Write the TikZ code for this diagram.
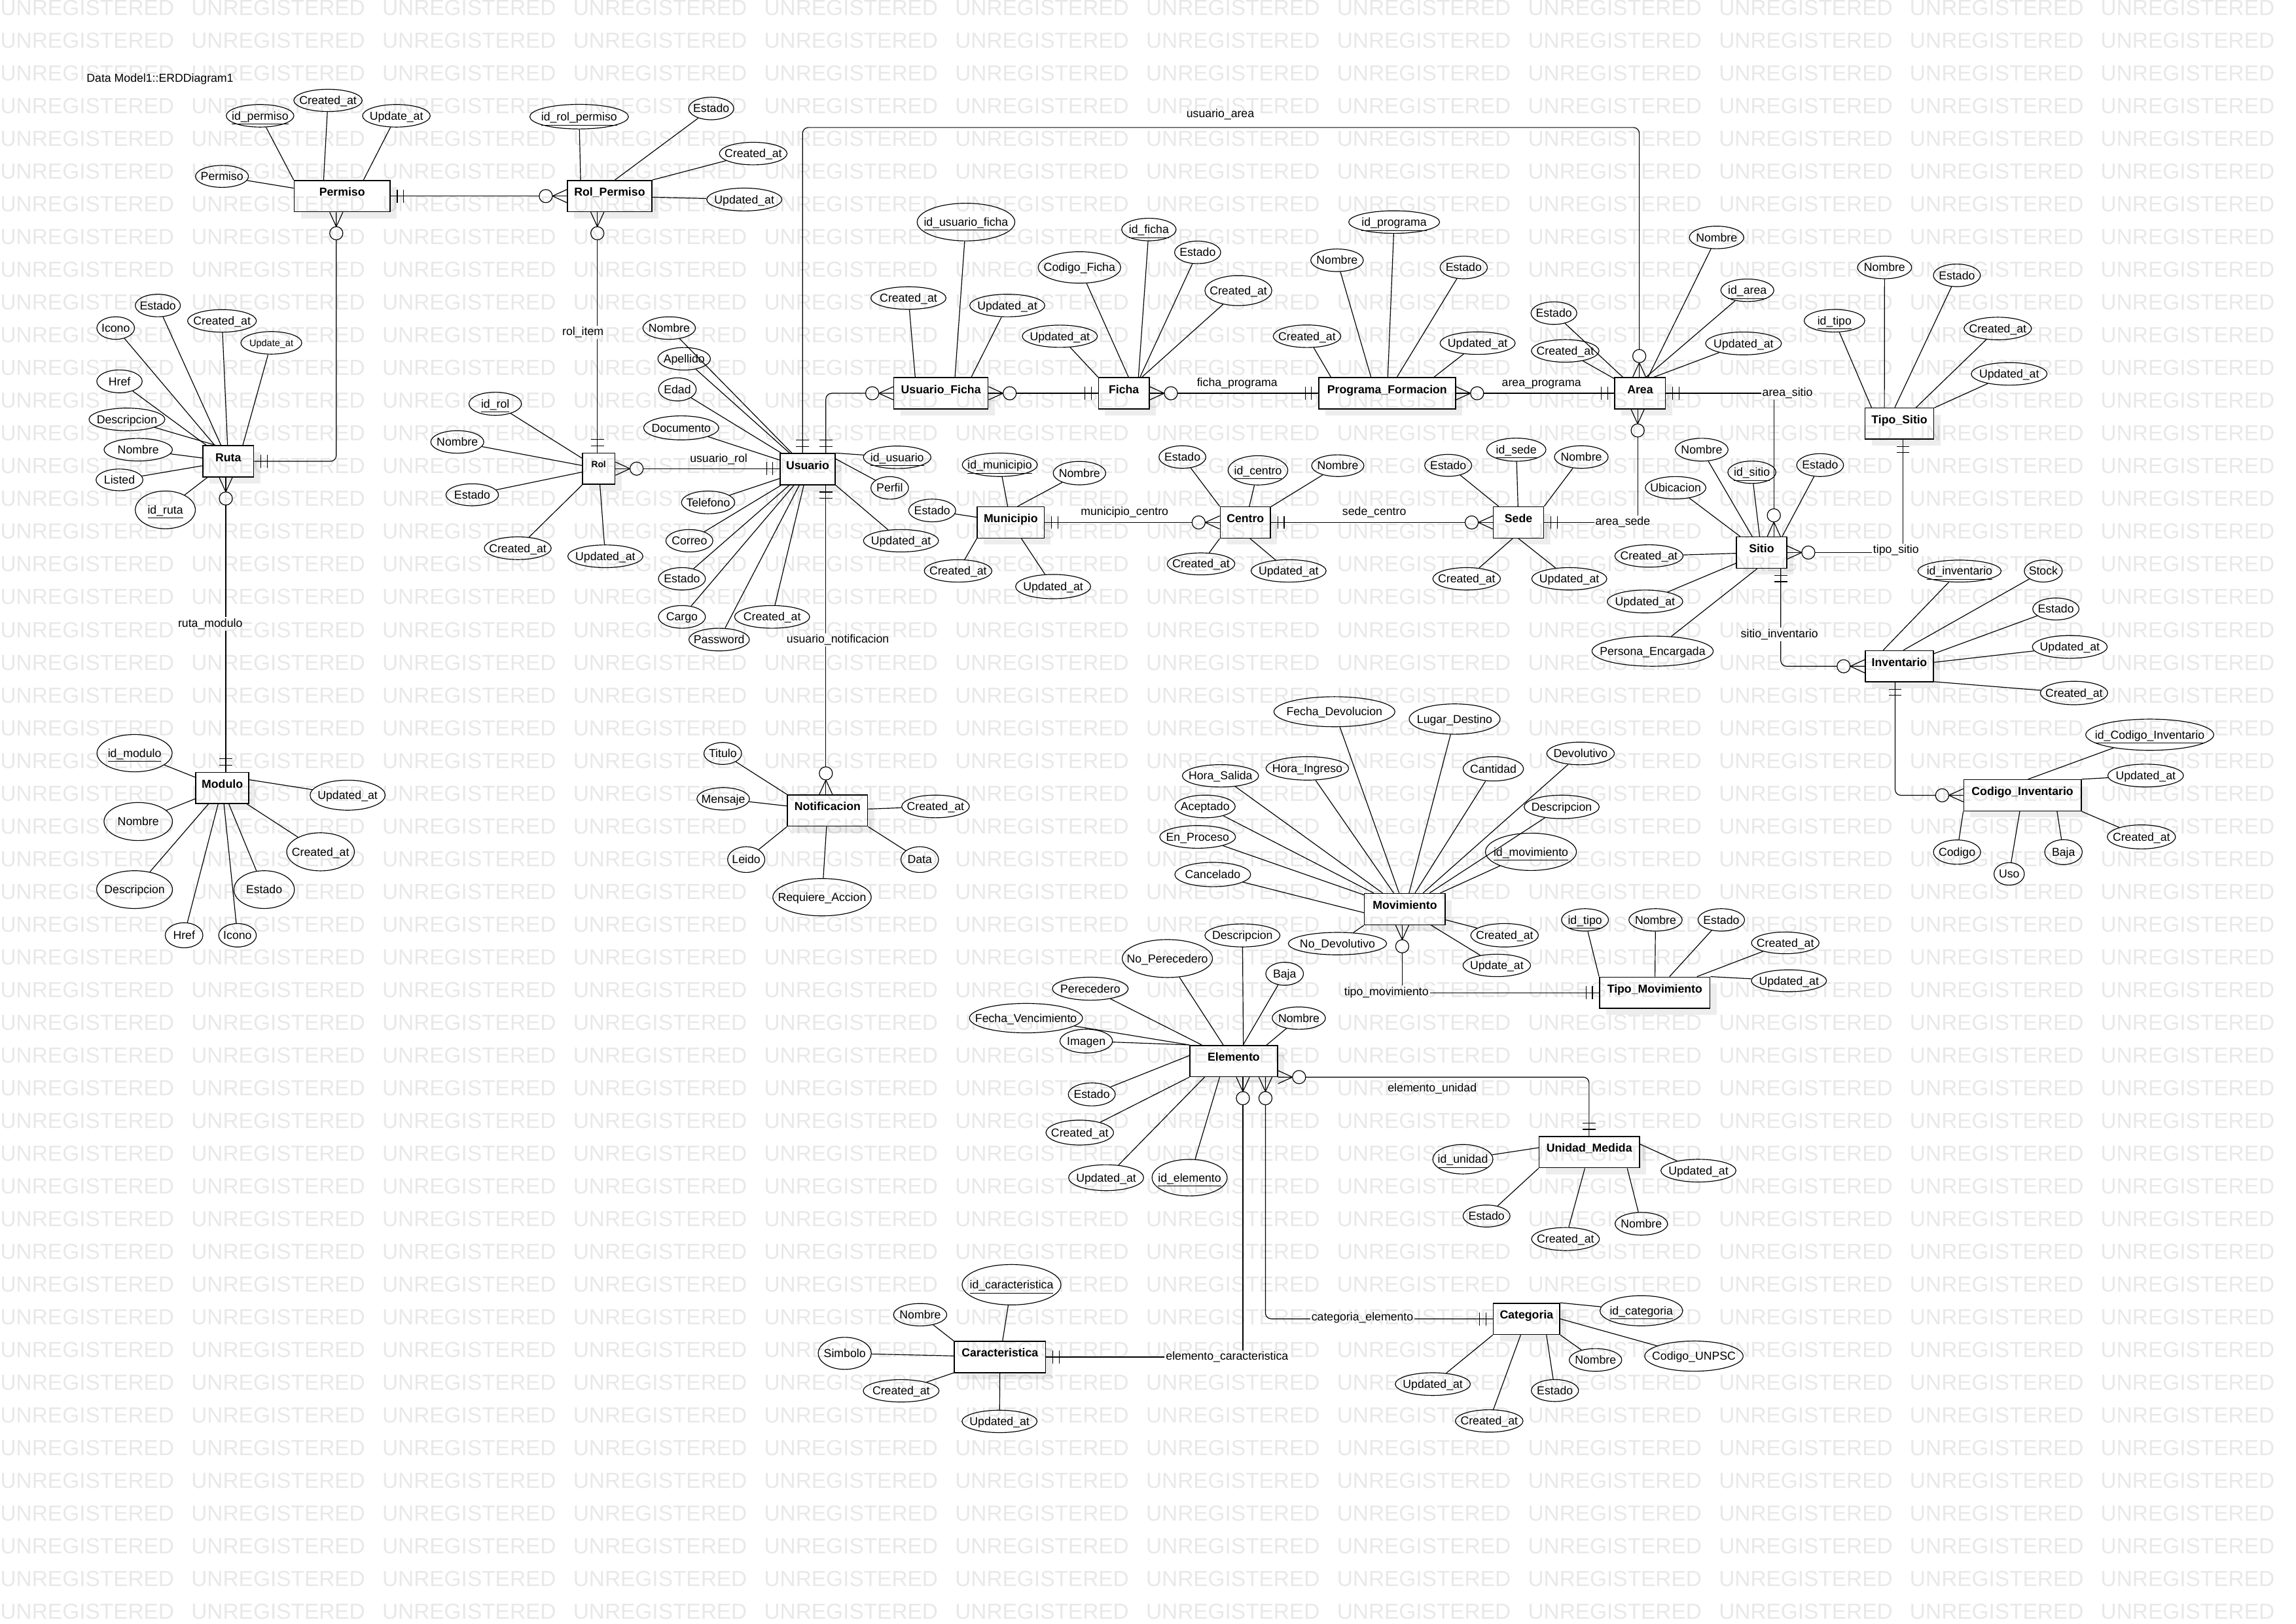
\documentclass[tikz,border=0pt]{standalone}
\usepackage{fontspec}
\setmainfont{Liberation Sans}
\usetikzlibrary{shapes.geometric,shadows,calc}

\newcommand\attxt[1]{\makebox[0pt]{\raisebox{-.35em}[0pt][0pt]{#1}}}

\tikzset{
  entity/.style={draw, fill=white, line width=0.8pt, inner sep=0pt,
    minimum width=#1*0.4mm, minimum height=21.3*0.4mm,
    text height=2.2mm, text depth=2.2mm,
    font=\fontsize{9}{10.8}\selectfont\bfseries,
    drop shadow={shadow xshift=0.18cm, shadow yshift=-0.18cm, fill=black!7, opacity=1}},
  attrib/.style 2 args={ellipse, draw, inner sep=0pt,
    minimum width=#1*0.4mm, minimum height=#2*0.4mm},
  rel/.style={inner sep=1pt},
  relcut/.style={fill=white, inner sep=1pt},
  pics/one/.style={code={
    \draw (4.6,-4.4) -- (4.6,4.4) (8.9,-4.4) -- (8.9,4.4);}},
  pics/many/.style={code={
    \draw (0,-4.5) -- (9.9,0) -- (0,4.5);
    \draw[fill=white] (14.4,0) circle[radius=4.5];}},
}

\begin{document}
\begin{tikzpicture}[x=0.4mm, y=-0.4mm, line width=0.6pt, font=\fontsize{9}{10.8}\selectfont]
\fill[white] (0,0) rectangle (1568,1109);
\useasboundingbox (0,0) rectangle (1568,1109);

\node[anchor=west] (titulo) at (56,54.2) {Data Model1::ERDDiagram1};

% entidades
\node[entity=65.5] (permiso) at (233.65,133.95) {Permiso};
\node[entity=57.7] (rolpermiso) at (416.35,133.95) {Rol\_Permiso};
\node[entity=34.6] (ruta) at (155.9,315.15) {Ruta};
\node[entity=36.2] (modulo) at (151.8,538.3) {Modulo};
\node[entity=22.3, font=\fontsize{7}{8}\selectfont\bfseries, text depth=2.9mm] (rol) at (408.85,320.15) {Rol};
\node[entity=37.7] (usuario) at (551.55,320.5) {Usuario};
\node[entity=64.4] (usuarioficha) at (642.6,268.65) {Usuario\_Ficha};
\node[entity=34.7] (ficha) at (767.55,268.65) {Ficha};
\node[entity=93.4] (programa) at (947.3,268.65) {Programa\_Formacion};
\node[entity=34.6] (area) at (1120.1,268.65) {Area};
\node[entity=46.9] (tipositio) at (1297.15,289.35) {Tipo\_Sitio};
\node[entity=34.4] (sitio) at (1203,377.45) {Sitio};
\node[entity=45.7] (municipio) at (690.25,356.9) {Municipio};
\node[entity=34.4] (centro) at (850.5,356.9) {Centro};
\node[entity=34.4] (sede) at (1037,356.9) {Sede};
\node[entity=46.6] (inventario) at (1297.1,455.15) {Inventario};
\node[entity=80.2] (codigo) at (1381.2,543.3) {Codigo\_Inventario};
\node[entity=54.7] (notificacion) at (565.15,553.7) {Notificacion};
\node[entity=55.2] (movimiento) at (959.4,621.05) {Movimiento};
\node[entity=75.4] (tipomov) at (1130.1,678.15) {Tipo\_Movimiento};
\node[entity=59.8] (elemento) at (842.5,724.8) {Elemento};
\node[entity=68.5] (unidad) at (1085.35,787.05) {Unidad\_Medida};
\node[entity=45.4] (categoria) at (1042.5,900.95) {Categoria};
\node[entity=62.4] (caracteristica) at (682.9,927) {Caracteristica};

% Permiso
\node[attrib={46.2}{15.4}] (permiso-id) at (177.6,79.1) {\attxt{\underline{id\_permiso}}};
\node[attrib={46.7}{15.2}] (permiso-cr) at (224,68.6) {\attxt{Created\_at}};
\node[attrib={46.2}{15.4}] (permiso-up) at (270.7,79.1) {\attxt{Update\_at}};
\node[attrib={36.2}{15}] (permiso-pe) at (151.6,120.5) {\attxt{Permiso}};
\foreach \a/\b in {permiso-id/permiso.north west, permiso-cr/permiso.139,
  permiso-up/permiso.37, permiso-pe/permiso}
  \draw (\a) -- (\b);

% Rol_Permiso
\node[attrib={67.4}{16.8}] (rolpermiso-id) at (395.5,79.7) {\attxt{\underline{id\_rol\_permiso}}};
\node[attrib={30.8}{15.4}] (rolpermiso-es) at (485.7,74.1) {\attxt{Estado}};
\node[attrib={46.2}{15.4}] (rolpermiso-cr) at (514.4,104.9) {\attxt{Created\_at}};
\node[attrib={51.3}{15.6}] (rolpermiso-up) at (508.3,136.3) {\attxt{Updated\_at}};
\foreach \a/\b in {rolpermiso-id/rolpermiso.151, rolpermiso-es/rolpermiso.72,
  rolpermiso-cr/rolpermiso.north east, rolpermiso-up/rolpermiso}
  \draw (\a) -- (\b);

% Ruta
\node[attrib={30.8}{15.4}] (ruta-es) at (107.8,208.7) {\attxt{Estado}};
\node[attrib={25.7}{15.4}] (ruta-ic) at (79,224.1) {\attxt{Icono}};
\node[attrib={47}{15.4}] (ruta-cr) at (151.6,219.2) {\attxt{Created\_at}};
\node[attrib={41.6}{15.4}, font=\fontsize{7.4}{9}\selectfont] (ruta-up) at (185.3,234.2) {\attxt{Update\_at}};
\node[attrib={31}{15.6}] (ruta-hr) at (81.6,260.5) {\attxt{Href}};
\node[attrib={51.8}{15.4}] (ruta-de) at (86.7,286.5) {\attxt{Descripcion}};
\node[attrib={46.7}{15.4}] (ruta-no) at (94.4,307.2) {\attxt{Nombre}};
\node[attrib={32}{14.8}] (ruta-li) at (81.6,327.8) {\attxt{Listed}};
\node[attrib={41}{25.8}] (ruta-id) at (112.9,348.3) {\attxt{\underline{id\_ruta}}};
\foreach \a/\b in {ruta-es/ruta, ruta-ic/ruta, ruta-cr/ruta, ruta-up/ruta.48,
  ruta-hr/ruta, ruta-de/ruta.128, ruta-no/ruta, ruta-li/ruta, ruta-id/ruta}
  \draw (\a) -- (\b);

% Modulo
\node[attrib={51.3}{25.5}] (modulo-id) at (91.9,514.5) {\attxt{\underline{id\_modulo}}};
\node[attrib={51.3}{20.5}] (modulo-up) at (237.4,543.2) {\attxt{Updated\_at}};
\node[attrib={46.7}{26}] (modulo-no) at (94.4,561.2) {\attxt{Nombre}};
\node[attrib={51.8}{25.8}] (modulo-de) at (91.9,607.7) {\attxt{Descripcion}};
\node[attrib={46.2}{26}] (modulo-cr) at (218.9,581.9) {\attxt{Created\_at}};
\node[attrib={41.3}{25.8}] (modulo-es) at (180.4,607.7) {\attxt{Estado}};
\node[attrib={25.7}{17.1}] (modulo-hr) at (125.7,638.9) {\attxt{Href}};
\node[attrib={25.7}{16}] (modulo-ic) at (162.2,638.9) {\attxt{Icono}};
\foreach \a/\b in {modulo-id/modulo, modulo-up/modulo.17, modulo-no/modulo,
  modulo-de/modulo, modulo-cr/modulo, modulo-es/modulo, modulo-hr/modulo, modulo-ic/modulo}
  \draw (\a) -- (\b);

% Rol
\node[attrib={35.9}{15.8}] (rol-id) at (338.2,275.8) {\attxt{\underline{id\_rol}}};
\node[attrib={36.2}{15.4}] (rol-no) at (312.3,301.9) {\attxt{Nombre}};
\node[attrib={35.9}{15}] (rol-es) at (322.5,338) {\attxt{Estado}};
\node[attrib={45.7}{15.5}] (rol-cr) at (353.6,374.5) {\attxt{Created\_at}};
\node[attrib={51.3}{15.5}] (rol-up) at (413.4,380) {\attxt{Updated\_at}};
\foreach \a in {rol-id, rol-no, rol-es, rol-cr, rol-up}
  \draw (\a) -- (rol);

% Usuario
\node[attrib={35.9}{15.4}] (usuario-no) at (457,224.1) {\attxt{Nombre}};
\node[attrib={35.9}{15.4}] (usuario-ap) at (467.2,245.1) {\attxt{Apellido}};
\node[attrib={25.7}{15.8}] (usuario-ed) at (462.6,266) {\attxt{Edad}};
\node[attrib={51.3}{16.4}] (usuario-do) at (465.2,292.3) {\attxt{Documento}};
\node[attrib={46.2}{15.4}] (usuario-id) at (612.7,312.4) {\attxt{\underline{id\_usuario}}};
\node[attrib={25.7}{15.4}] (usuario-pe) at (607.6,333.3) {\attxt{Perfil}};
\node[attrib={36.4}{15.5}] (usuario-te) at (483.6,343.2) {\attxt{Telefono}};
\node[attrib={32.1}{15.3}] (usuario-co) at (470.8,369.4) {\attxt{Correo}};
\node[attrib={32.1}{15.3}] (usuario-es) at (465.7,395.4) {\attxt{Estado}};
\node[attrib={32.1}{15.5}] (usuario-ca) at (465.7,421.4) {\attxt{Cargo}};
\node[attrib={41.3}{15.5}] (usuario-pa) at (491.1,436.9) {\attxt{Password}};
\node[attrib={51.3}{15.5}] (usuario-cr) at (527.3,421.4) {\attxt{Created\_at}};
\node[attrib={51.3}{15.3}] (usuario-up) at (615.3,369.4) {\attxt{Updated\_at}};
\foreach \a/\b in {usuario-no/usuario, usuario-ap/usuario, usuario-ed/usuario,
  usuario-do/usuario, usuario-id/usuario.north east, usuario-pe/usuario.20,
  usuario-te/usuario, usuario-co/usuario, usuario-es/usuario, usuario-ca/usuario,
  usuario-pa/usuario, usuario-cr/usuario, usuario-up/usuario.south east}
  \draw (\a) -- (\b);

% Usuario_Ficha
\node[attrib={66.7}{25.7}] (usuarioficha-id) at (659.7,151.7) {\attxt{\underline{id\_usuario\_ficha}}};
\node[attrib={51.3}{15.4}] (usuarioficha-cr) at (620.4,203.6) {\attxt{Created\_at}};
\node[attrib={51.3}{15.4}] (usuarioficha-up) at (687.9,208.7) {\attxt{Updated\_at}};
\foreach \a/\b in {usuarioficha-id/usuarioficha.49, usuarioficha-cr/usuarioficha.148,
  usuarioficha-up/usuarioficha.28}
  \draw (\a) -- (\b);

% Ficha
\node[attrib={37.2}{15.4}] (ficha-id) at (784.6,156.8) {\attxt{\underline{id\_ficha}}};
\node[attrib={56.4}{21.5}] (ficha-cf) at (737.2,182.7) {\attxt{Codigo\_Ficha}};
\node[attrib={51.3}{15.2}] (ficha-up) at (723.8,229.7) {\attxt{Updated\_at}};
\node[attrib={31.5}{15.4}] (ficha-es) at (817.9,172.4) {\attxt{Estado}};
\node[attrib={45.7}{20.5}] (ficha-cr) at (845.7,198.5) {\attxt{Created\_at}};
\foreach \a/\b in {ficha-id/ficha.48, ficha-cf/ficha.74, ficha-up/ficha.north west,
  ficha-es/ficha.45, ficha-cr/ficha}
  \draw (\a) -- (\b);

% Programa_Formacion
\node[attrib={62.1}{15.4}] (programa-id) at (952.1,151.7) {\attxt{\underline{id\_programa}}};
\node[attrib={35.9}{15.4}] (programa-no) at (913.1,177.8) {\attxt{Nombre}};
\node[attrib={32.3}{15.4}] (programa-es) at (999.6,182.7) {\attxt{Estado}};
\node[attrib={46.2}{15.4}] (programa-cr) at (892.6,229.7) {\attxt{Created\_at}};
\node[attrib={51.3}{15.4}] (programa-up) at (1009.1,234.4) {\attxt{Updated\_at}};
\foreach \a/\b in {programa-id/programa, programa-no/programa.135, programa-es/programa,
  programa-cr/programa.164, programa-up/programa.19}
  \draw (\a) -- (\b);

% Area
\node[attrib={37.2}{15.4}] (area-no) at (1172.3,162.2) {\attxt{Nombre}};
\node[attrib={36.2}{15.4}] (area-id) at (1193.3,198.3) {\attxt{\underline{id\_area}}};
\node[attrib={31.3}{15.4}] (area-es) at (1061.2,213.9) {\attxt{Estado}};
\node[attrib={46.2}{15.4}] (area-cr) at (1068.9,239.7) {\attxt{Created\_at}};
\node[attrib={51.8}{15.6}] (area-up) at (1190.7,234.6) {\attxt{Updated\_at}};
\foreach \a/\b in {area-no/area, area-id/area.70, area-es/area, area-cr/area, area-up/area.50}
  \draw (\a) -- (\b);

% Tipo_Sitio
\node[attrib={37}{15.4}] (tipositio-no) at (1287,182.7) {\attxt{Nombre}};
\node[attrib={32.1}{15.4}] (tipositio-es) at (1336.4,188.1) {\attxt{Estado}};
\node[attrib={41.4}{15.4}] (tipositio-id) at (1252.8,219.1) {\attxt{\underline{id\_tipo}}};
\node[attrib={46.1}{15.4}] (tipositio-cr) at (1364.3,224.4) {\attxt{Created\_at}};
\node[attrib={51.8}{15.4}] (tipositio-up) at (1372.1,255.4) {\attxt{Updated\_at}};
\foreach \a/\b in {tipositio-no/tipositio.133, tipositio-es/tipositio.106,
  tipositio-id/tipositio.150, tipositio-cr/tipositio, tipositio-up/tipositio}
  \draw (\a) -- (\b);

% Sitio
\node[attrib={36.1}{15.6}] (sitio-no) at (1162.1,307.2) {\attxt{Nombre}};
\node[attrib={32.8}{15.3}] (sitio-id) at (1196.4,322.6) {\attxt{\underline{id\_sitio}}};
\node[attrib={32}{15.6}] (sitio-es) at (1243,317.7) {\attxt{Estado}};
\node[attrib={41.4}{15.3}] (sitio-ub) at (1144.3,333.2) {\attxt{Ubicacion}};
\node[attrib={46.6}{15.3}] (sitio-cr) at (1126.1,379.8) {\attxt{Created\_at}};
\node[attrib={51.6}{15.6}] (sitio-up) at (1123.4,410.9) {\attxt{Updated\_at}};
\node[attrib={82.8}{20.6}] (sitio-pe) at (1128.6,444.8) {\attxt{Persona\_Encargada}};
\foreach \a/\b in {sitio-no/sitio, sitio-id/sitio, sitio-es/sitio.38, sitio-ub/sitio,
  sitio-cr/sitio, sitio-up/sitio, sitio-pe/sitio.255}
  \draw (\a) -- (\b);

% Municipio
\node[attrib={51.3}{16}] (municipio-id) at (682.8,317.5) {\attxt{\underline{id\_municipio}}};
\node[attrib={35.9}{16}] (municipio-no) at (737.2,323.2) {\attxt{Nombre}};
\node[attrib={32.1}{15.5}] (municipio-es) at (636.6,348.7) {\attxt{Estado}};
\node[attrib={46.2}{15.3}] (municipio-cr) at (654.3,390) {\attxt{Created\_at}};
\node[attrib={51.3}{16.6}] (municipio-up) at (719.2,400.7) {\attxt{Updated\_at}};
\foreach \a/\b in {municipio-id/municipio, municipio-no/municipio.67, municipio-es/municipio,
  municipio-cr/municipio.south west, municipio-up/municipio}
  \draw (\a) -- (\b);

% Centro
\node[attrib={32}{15.4}] (centro-es) at (807.5,312.2) {\attxt{Estado}};
\node[attrib={40.8}{20}] (centro-id) at (859.1,321.3) {\attxt{\underline{id\_centro}}};
\node[attrib={35.7}{14.8}] (centro-no) at (913.6,318.1) {\attxt{Nombre}};
\node[attrib={46.2}{15}] (centro-cr) at (820.2,385.2) {\attxt{Created\_at}};
\node[attrib={51.3}{15.3}] (centro-up) at (880,390) {\attxt{Updated\_at}};
\foreach \a/\b in {centro-es/centro.north west, centro-id/centro, centro-no/centro,
  centro-cr/centro.south west, centro-up/centro.286}
  \draw (\a) -- (\b);

% Sede
\node[attrib={32.1}{15}] (sede-es) at (989,317.9) {\attxt{Estado}};
\node[attrib={40.5}{15.8}] (sede-id) at (1035.5,307.2) {\attxt{\underline{id\_sede}}};
\node[attrib={36.7}{15.4}] (sede-no) at (1079.9,312.2) {\attxt{Nombre}};
\node[attrib={46.2}{15.3}] (sede-cr) at (1001.6,395.4) {\attxt{Created\_at}};
\node[attrib={51.3}{15.3}] (sede-up) at (1071.7,395.4) {\attxt{Updated\_at}};
\foreach \a/\b in {sede-es/sede, sede-id/sede, sede-no/sede.north east,
  sede-cr/sede.250, sede-up/sede.south}
  \draw (\a) -- (\b);

% Inventario
\node[attrib={56.9}{15}] (inventario-id) at (1338.2,390.1) {\attxt{\underline{id\_inventario}}};
\node[attrib={25.9}{15}] (inventario-st) at (1395.4,390.1) {\attxt{Stock}};
\node[attrib={31.6}{15}] (inventario-es) at (1404,416) {\attxt{Estado}};
\node[attrib={51.2}{15.6}] (inventario-up) at (1413.5,441.9) {\attxt{Updated\_at}};
\node[attrib={46}{16}] (inventario-cr) at (1416.4,473.4) {\attxt{Created\_at}};
\foreach \a/\b in {inventario-id/inventario.135, inventario-st/inventario.76,
  inventario-es/inventario, inventario-up/inventario, inventario-cr/inventario.336}
  \draw (\a) -- (\b);

% Codigo_Inventario
\node[attrib={87.4}{21.3}] (codigo-id) at (1468.1,501.9) {\attxt{\underline{id\_Codigo\_Inventario}}};
\node[attrib={51.7}{15.6}] (codigo-up) at (1465.3,529.8) {\attxt{Updated\_at}};
\node[attrib={46.6}{16.4}] (codigo-cr) at (1462.4,571.7) {\attxt{Created\_at}};
\node[attrib={32.2}{16.6}] (codigo-co) at (1336.5,582.1) {\attxt{Codigo}};
\node[attrib={20.7}{15.4}] (codigo-us) at (1372.1,597) {\attxt{Uso}};
\node[attrib={25.6}{17}] (codigo-ba) at (1409.2,582.1) {\attxt{Baja}};
\foreach \a/\b in {codigo-id/codigo.71, codigo-up/codigo.north east,
  codigo-cr/codigo.south east, codigo-co/codigo.south west, codigo-us/codigo,
  codigo-ba/codigo.335}
  \draw (\a) -- (\b);

% Notificacion
\node[attrib={25.7}{15}] (notificacion-ti) at (493.6,514.7) {\attxt{Titulo}};
\node[attrib={35.9}{15.3}] (notificacion-me) at (493.9,545.7) {\attxt{Mensaje}};
\node[attrib={46.2}{15.5}] (notificacion-cr) at (638.9,550.9) {\attxt{Created\_at}};
\node[attrib={25.4}{17.6}] (notificacion-le) at (509.6,587.2) {\attxt{Leido}};
\node[attrib={25.7}{17.6}] (notificacion-da) at (628.1,587.2) {\attxt{Data}};
\node[attrib={67.2}{25.5}] (notificacion-re) at (561.4,612.9) {\attxt{Requiere\_Accion}};
\foreach \a/\b in {notificacion-ti/notificacion.north west, notificacion-me/notificacion,
  notificacion-cr/notificacion, notificacion-le/notificacion.south west,
  notificacion-da/notificacion.south east, notificacion-re/notificacion}
  \draw (\a) -- (\b);

% Movimiento
\node[attrib={82.6}{20.5}] (movimiento-fd) at (911.3,486.2) {\attxt{Fecha\_Devolucion}};
\node[attrib={62.1}{20.7}] (movimiento-ld) at (993.4,491.2) {\attxt{Lugar\_Destino}};
\node[attrib={46.2}{15.5}] (movimiento-dv) at (1079.4,514.7) {\attxt{Devolutivo}};
\node[attrib={41.3}{16.6}] (movimiento-ca) at (1019.8,525.2) {\attxt{Cantidad}};
\node[attrib={56.5}{16}] (movimiento-hi) at (892.8,524.9) {\attxt{Hora\_Ingreso}};
\node[attrib={52.1}{15.3}] (movimiento-hs) at (833.5,530) {\attxt{Hora\_Salida}};
\node[attrib={41.1}{15.5}] (movimiento-ac) at (823,550.9) {\attxt{Aceptado}};
\node[attrib={51.8}{15.5}] (movimiento-ep) at (817.9,571.7) {\attxt{En\_Proceso}};
\node[attrib={51.8}{16.6}] (movimiento-cn) at (828.2,597.4) {\attxt{Cancelado}};
\node[attrib={51.3}{16}] (movimiento-de) at (1066.5,551.2) {\attxt{Descripcion}};
\node[attrib={62.1}{25.5}] (movimiento-id) at (1045.5,581.9) {\attxt{\underline{id\_movimiento}}};
\node[attrib={46.2}{16}] (movimiento-cr) at (1027.5,638.9) {\attxt{Created\_at}};
\node[attrib={46.2}{15.3}] (movimiento-up) at (1022.2,659.5) {\attxt{Update\_at}};
\node[attrib={67.2}{15.3}] (movimiento-nd) at (913.4,644.6) {\attxt{No\_Devolutivo}};
\foreach \a/\b in {movimiento-fd/movimiento, movimiento-ld/movimiento,
  movimiento-dv/movimiento, movimiento-ca/movimiento, movimiento-hi/movimiento,
  movimiento-hs/movimiento, movimiento-ac/movimiento, movimiento-ep/movimiento,
  movimiento-cn/movimiento.185, movimiento-de/movimiento, movimiento-id/movimiento,
  movimiento-cr/movimiento, movimiento-up/movimiento, movimiento-nd/movimiento.south west}
  \draw (\a) -- (\b);

% Tipo_Movimiento
\node[attrib={32.1}{15.3}] (tipomov-id) at (1082.4,628.4) {\attxt{\underline{id\_tipo}}};
\node[attrib={36.4}{15.3}] (tipomov-no) at (1130.6,628.4) {\attxt{Nombre}};
\node[attrib={31.8}{15.3}] (tipomov-es) at (1175.5,628.4) {\attxt{Estado}};
\node[attrib={46.2}{14.8}] (tipomov-cr) at (1219.2,644.1) {\attxt{Created\_at}};
\node[attrib={51.3}{15}] (tipomov-up) at (1221.7,670) {\attxt{Updated\_at}};
\foreach \a/\b in {tipomov-id/tipomov.north west, tipomov-no/tipomov, tipomov-es/tipomov,
  tipomov-cr/tipomov, tipomov-up/tipomov.north east}
  \draw (\a) -- (\b);

% Elemento
\node[attrib={51.3}{15.7}] (elemento-de) at (848.5,639) {\attxt{Descripcion}};
\node[attrib={61.6}{25.9}] (elemento-np) at (797.2,654.8) {\attxt{No\_Perecedero}};
\node[attrib={25.7}{15.7}] (elemento-ba) at (877.3,665.2) {\attxt{Baja}};
\node[attrib={51.8}{15.7}] (elemento-pe) at (744.6,675.4) {\attxt{Perecedero}};
\node[attrib={77.2}{20.1}] (elemento-fv) at (700.7,695.5) {\attxt{Fecha\_Vencimiento}};
\node[attrib={36.4}{15.3}] (elemento-no) at (887,695.5) {\attxt{Nombre}};
\node[attrib={35.9}{16.2}] (elemento-im) at (741.8,711.2) {\attxt{Imagen}};
\node[attrib={32.1}{15.7}] (elemento-es) at (745.6,747.6) {\attxt{Estado}};
\node[attrib={46.2}{17}] (elemento-cr) at (737.4,773.7) {\attxt{Created\_at}};
\node[attrib={51.3}{17.7}] (elemento-up) at (755.4,804.5) {\attxt{Updated\_at}};
\node[attrib={51.3}{25}] (elemento-id) at (812.4,804.5) {\attxt{\underline{id\_elemento}}};
\foreach \a/\b in {elemento-de/elemento.59, elemento-np/elemento, elemento-ba/elemento,
  elemento-pe/elemento, elemento-fv/elemento.north west, elemento-no/elemento.26,
  elemento-im/elemento.north west, elemento-es/elemento.173,
  elemento-cr/elemento.south west, elemento-up/elemento.209, elemento-id/elemento.229}
  \draw (\a) -- (\b);

% Unidad_Medida
\node[attrib={41.1}{20.1}] (unidad-id) at (999,791.9) {\attxt{\underline{id\_unidad}}};
\node[attrib={51.3}{15.5}] (unidad-up) at (1159.9,799.7) {\attxt{Updated\_at}};
\node[attrib={32.1}{15}] (unidad-es) at (1015.2,830.7) {\attxt{Estado}};
\node[attrib={46.4}{15.7}] (unidad-cr) at (1069.1,846.4) {\attxt{Created\_at}};
\node[attrib={35.9}{15.5}] (unidad-no) at (1120.9,836) {\attxt{Nombre}};
\foreach \a/\b in {unidad-id/unidad.175, unidad-up/unidad.9, unidad-es/unidad.south west,
  unidad-cr/unidad, unidad-no/unidad.337}
  \draw (\a) -- (\b);

% Categoria
\node[attrib={56.5}{20.6}] (categoria-id) at (1120.9,895.4) {\attxt{\underline{id\_categoria}}};
\node[attrib={67.2}{20.6}] (categoria-cu) at (1156.8,926.4) {\attxt{Codigo\_UNPSC}};
\node[attrib={35.9}{15.5}] (categoria-no) at (1089.6,929) {\attxt{Nombre}};
\node[attrib={32.3}{15}] (categoria-es) at (1061.9,949.9) {\attxt{Estado}};
\node[attrib={46.2}{15.3}] (categoria-cr) at (1017,970.7) {\attxt{Created\_at}};
\node[attrib={51.3}{15.5}] (categoria-up) at (978.5,945.5) {\attxt{Updated\_at}};
\foreach \a/\b in {categoria-id/categoria.north east, categoria-cu/categoria.east,
  categoria-no/categoria.south east, categoria-es/categoria.321,
  categoria-cr/categoria, categoria-up/categoria.south west}
  \draw (\a) -- (\b);

% Caracteristica
\node[attrib={67.5}{27.6}] (caracteristica-id) at (690.8,877.6) {\attxt{\underline{id\_caracteristica}}};
\node[attrib={36.4}{15.3}] (caracteristica-no) at (628.4,898.1) {\attxt{Nombre}};
\node[attrib={36.3}{21.9}] (caracteristica-si) at (576.9,924.5) {\attxt{Simbolo}};
\node[attrib={51.8}{15.3}] (caracteristica-cr) at (615.4,950.1) {\attxt{Created\_at}};
\node[attrib={51.3}{15.3}] (caracteristica-up) at (682.6,971) {\attxt{Updated\_at}};
\foreach \a/\b in {caracteristica-id/caracteristica, caracteristica-no/caracteristica.north west,
  caracteristica-si/caracteristica, caracteristica-cr/caracteristica,
  caracteristica-up/caracteristica}
  \draw (\a) -- (\b);

% relaciones
% Permiso - Rol_Permiso
\draw (permiso.east) -- (rolpermiso.west);
\pic at (permiso.east) {one};
\pic[rotate=180] at (rolpermiso.west) {many};

% Rol_Permiso - Rol
\coordinate (rp-s) at ($(rolpermiso.south)+(-8.4,0)$);
\coordinate (rol-n) at (rp-s |- rol.north);
\draw (rp-s) -- (rol-n);
\pic[rotate=-90] at (rp-s) {many};
\pic[rotate=90] at (rol-n) {one};
\node[relcut] (rolitem) at (398.1,227.2) {rol\_item};

% Permiso - Ruta
\coordinate (pe-s) at ($(permiso.south)+(-4,0)$);
\draw[rounded corners=1.6mm] (pe-s) |- (ruta.east);
\pic[rotate=-90] at (pe-s) {many};
\pic at (ruta.east) {one};

% Ruta - Modulo
\coordinate (ru-s) at ($(ruta.south)+(-1.7,0)$);
\coordinate (mo-n) at (ru-s |- modulo.north);
\draw (ru-s) -- (mo-n);
\pic[rotate=-90] at (ru-s) {many};
\pic[rotate=90] at (mo-n) {one};
\node[relcut] (rutamodulo) at (143.6,426.2) {ruta\_modulo};

% Rol - Usuario
\coordinate (us-w) at (rol.east -| usuario.west);
\draw (rol.east) -- (us-w);
\pic at (rol.east) {many};
\pic[rotate=180] at (us-w) {one};
\node[rel] (usuariorol) at (490.8,313.8) {usuario\_rol};

% Usuario - Usuario_Ficha
\coordinate (us-n2) at ($(usuario.north)+(12.45,0)$);
\draw[rounded corners=1.6mm] (us-n2) |- (usuarioficha.west);
\pic[rotate=90] at (us-n2) {one};
\pic[rotate=180] at (usuarioficha.west) {many};

% Usuario - Area
\coordinate (us-n1) at ($(usuario.north)+(-3.45,0)$);
\coordinate (ar-n) at ($(area.north)+(-0.6,0)$);
\coordinate (ua-top) at (548.1,87.1);
\draw[rounded corners=1.6mm] (us-n1) -- (ua-top) -- (ar-n |- ua-top) -- (ar-n);
\pic[rotate=90] at (us-n1) {one};
\pic[rotate=90] at (ar-n) {many};
\node[rel] (usuarioarea) at (833.4,78.2) {usuario\_area};

% Usuario_Ficha - Ficha - Programa_Formacion - Area
\draw (usuarioficha.east) -- (ficha.west);
\pic at (usuarioficha.east) {many};
\pic[rotate=180] at (ficha.west) {one};
\draw (ficha.east) -- (programa.west);
\pic at (ficha.east) {many};
\pic[rotate=180] at (programa.west) {one};
\node[rel] (fichaprograma) at (844.9,262.1) {ficha\_programa};
\draw (programa.east) -- (area.west);
\pic at (programa.east) {many};
\pic[rotate=180] at (area.west) {one};
\node[rel] (areaprograma) at (1052.7,262.7) {area\_programa};

% Area - Sitio
\coordinate (si-n) at ($(sitio.north)+(8.4,0)$);
\draw (area.east) -| (si-n);
\pic at (area.east) {one};
\pic[rotate=90] at (si-n) {many};
\node[relcut] (areasitio) at (1220.7,268.5) {area\_sitio};

% Area - Sede
\coordinate (ar-s) at ($(area.south)+(-1.7,0)$);
\draw (ar-s) |- (sede.east);
\pic[rotate=-90] at (ar-s) {many};
\pic at (sede.east) {one};
\node[relcut] (areasede) at (1108.2,356.7) {area\_sede};

% Sitio - Tipo_Sitio
\coordinate (ts-s) at ($(tipositio.south)+(2.45,0)$);
\draw (sitio.east) -| (ts-s);
\pic at (sitio.east) {many};
\pic[rotate=-90] at (ts-s) {one};
\node[relcut] (tipositiolbl) at (1294.8,375.9) {tipo\_sitio};

% Sitio - Inventario
\coordinate (si-s) at ($(sitio.south)+(13.1,0)$);
\draw[rounded corners=1.6mm] (si-s) |- (inventario.west);
\pic[rotate=-90] at (si-s) {one};
\pic[rotate=180] at (inventario.west) {many};
\node[relcut] (sitioinventario) at (1215.2,433.3) {sitio\_inventario};

% Inventario - Codigo_Inventario
\coordinate (in-s) at ($(inventario.south)+(-2.9,0)$);
\draw[rounded corners=1.6mm] (in-s) |- (codigo.west);
\pic[rotate=-90] at (in-s) {one};
\pic[rotate=180] at (codigo.west) {many};

% Municipio - Centro - Sede
\draw (municipio.east) -- (centro.west);
\pic at (municipio.east) {one};
\pic[rotate=180] at (centro.west) {many};
\node[rel] (municipiocentro) at (768,349.8) {municipio\_centro};
\draw (centro.east) -- (sede.west);
\pic at (centro.east) {one};
\pic[rotate=180] at (sede.west) {many};
\node[rel] (sedecentro) at (938.5,349.8) {sede\_centro};

% Usuario - Notificacion
\coordinate (us-s) at ($(usuario.south)+(12.45,0)$);
\coordinate (no-n) at (us-s |- notificacion.north);
\draw (us-s) -- (no-n);
\pic[rotate=-90] at (us-s) {one};
\pic[rotate=90] at (no-n) {many};
\node[relcut] (usuarionotificacion) at (572.2,437.2) {usuario\_notificacion};

% Movimiento - Tipo_Movimiento
\coordinate (mo-s) at ($(movimiento.south)+(-1.8,0)$);
\draw (mo-s) |- (tipomov.west);
\pic[rotate=-90] at (mo-s) {many};
\pic[rotate=180] at (tipomov.west) {one};
\node[relcut] (tipomovimiento) at (946.8,677.8) {tipo\_movimiento};

% Elemento - Unidad_Medida
\coordinate (um-n) at ($(unidad.north)+(-0.15,0)$);
\draw[rounded corners=1.6mm] (elemento.south east) -| (um-n);
\pic at (elemento.south east) {many};
\pic[rotate=90] at (um-n) {one};
\node[rel] (elementounidad) at (978.1,743.9) {elemento\_unidad};

% Elemento - Categoria
\coordinate (el-s2) at ($(elemento.south)+(21.7,0)$);
\draw[rounded corners=1.6mm] (el-s2) |- (categoria.west);
\pic[rotate=-90] at (el-s2) {many};
\pic[rotate=180] at (categoria.west) {one};
\node[relcut] (categoriaelemento) at (930.4,900.2) {categoria\_elemento};

% Elemento - Caracteristica
\coordinate (el-s1) at ($(elemento.south)+(6.3,0)$);
\draw (el-s1) |- (caracteristica.east);
\pic[rotate=-90] at (el-s1) {many};
\pic at (caracteristica.east) {one};
\node[relcut] (elementocaracteristica) at (838,926.9) {elemento\_caracteristica};

% marca de agua
\foreach \r in {0,...,49}
  \foreach \c in {0,...,11}
    \node[anchor=base west, inner sep=0pt, text opacity=0.09,
      font=\fontsize{17}{17}\selectfont] (wm-\r-\c) at ({130.4*\c},{10.7+22.35*\r}) {UNREGISTERED};
\end{tikzpicture}
\end{document}
